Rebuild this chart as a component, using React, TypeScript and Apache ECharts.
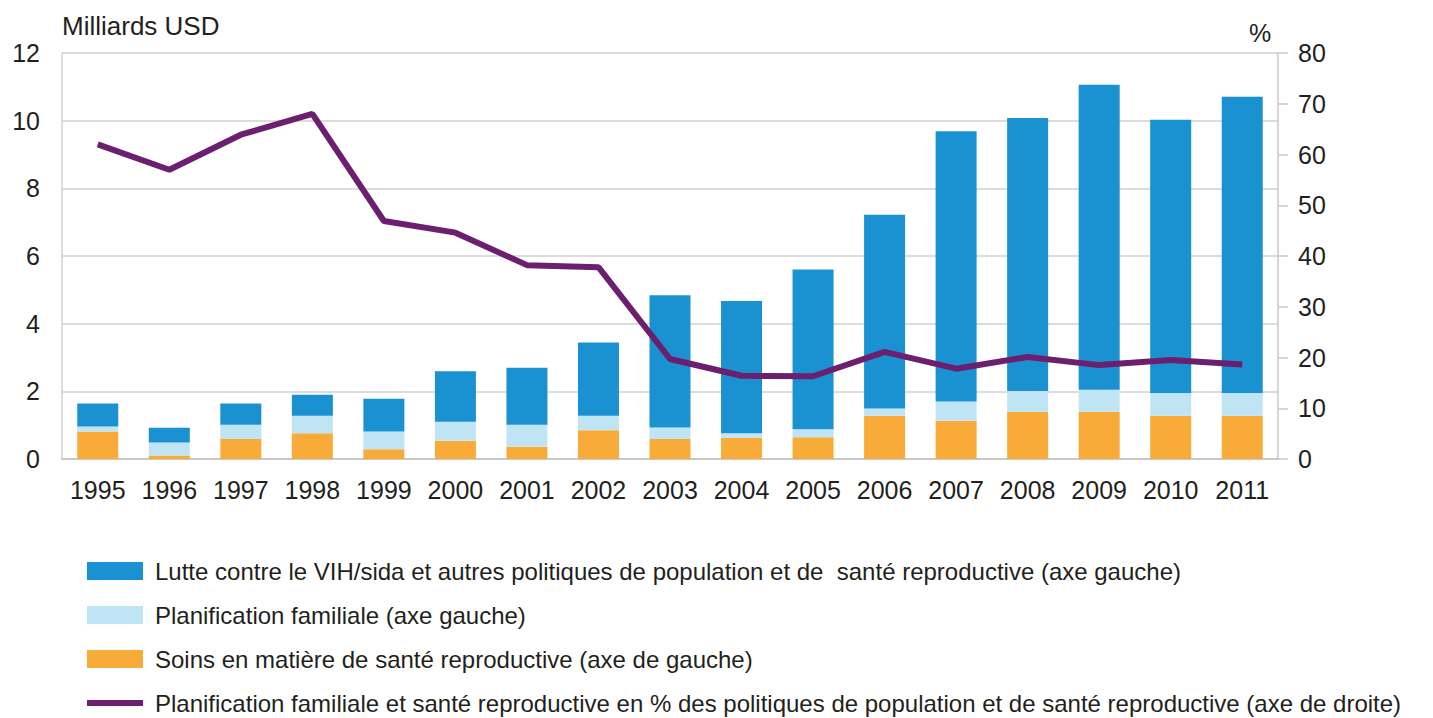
import React, { useEffect, useRef } from "react";
import * as echarts from "echarts";

const years = ["1995","1996","1997","1998","1999","2000","2001","2002","2003","2004","2005","2006","2007","2008","2009","2010","2011"];
const soins = [0.81,0.10,0.59,0.76,0.29,0.54,0.36,0.85,0.59,0.63,0.64,1.28,1.13,1.40,1.40,1.28,1.28];
const planif = [0.15,0.39,0.42,0.52,0.52,0.56,0.65,0.43,0.34,0.13,0.24,0.21,0.57,0.61,0.65,0.67,0.67];
const lutte = [0.68,0.43,0.63,0.62,0.97,1.49,1.69,2.16,3.91,3.91,4.72,5.73,7.99,8.07,9.01,8.08,8.76];
const pct = [62.0,57.0,63.9,68.0,46.9,44.6,38.2,37.8,19.7,16.4,16.3,21.1,17.8,20.1,18.5,19.5,18.6];

const nameLutte = "Lutte contre le VIH/sida et autres politiques de population et de  santé reproductive (axe gauche)";
const namePlanif = "Planification familiale (axe gauche)";
const nameSoins = "Soins en matière de santé reproductive (axe de gauche)";
const nameLine = "Planification familiale et santé reproductive en % des politiques de population et de santé reproductive (axe de droite)";

const FONT = "'Liberation Sans', Arial, sans-serif";
const TXT = "#231f20";

export default function App() {
  const ref = useRef<HTMLDivElement>(null);
  useEffect(() => {
    if (!ref.current) return;
    const chart = echarts.init(ref.current, undefined, { renderer: "svg" });
    chart.setOption({
      animation: false,
      backgroundColor: "#ffffff",
      textStyle: { fontFamily: FONT },
      grid: { left: 62, right: 155, top: 53, bottom: 259, containLabel: false },
      graphic: [
        { type: "text", left: 62, top: 13, style: { text: "Milliards USD", fontSize: 26, fontFamily: FONT, fill: TXT } },
        { type: "text", left: 1249, top: 20, style: { text: "%", fontSize: 25, fontFamily: FONT, fill: TXT } },
      ],
      legend: {
        orient: "vertical",
        left: 82,
        top: 554,
        height: 200,
        width: 1400,
        itemWidth: 56,
        itemHeight: 18,
        itemGap: 20,
        data: [
          { name: nameLutte, icon: "rect" },
          { name: namePlanif, icon: "rect" },
          { name: nameSoins, icon: "rect" },
          { name: nameLine, icon: "path://M0,0L56,0L56,6L0,6Z" },
        ],
        textStyle: { fontSize: 24, fontFamily: FONT, color: TXT, padding: [0, 0, 0, 7] },
      },
      xAxis: {
        type: "category",
        data: years,
        axisLine: { lineStyle: { color: "#c8c8c8", width: 2 } },
        axisTick: { show: false },
        axisLabel: { fontSize: 25, color: TXT, margin: 18, fontFamily: FONT, interval: 0 },
      },
      yAxis: [
        {
          type: "value",
          min: 0,
          max: 12,
          interval: 2,
          axisLine: { show: true, lineStyle: { color: "#d0d0d0", width: 1.5 } },
          axisTick: { show: false },
          splitLine: { lineStyle: { color: "#d0d0d0", width: 1.5 } },
          axisLabel: { fontSize: 25, color: TXT, margin: 22, fontFamily: FONT },
        },
        {
          type: "value",
          min: 0,
          max: 80,
          interval: 10,
          position: "right",
          axisLine: { show: true, lineStyle: { color: "#c8c8c8", width: 1.5 } },
          axisTick: { show: true, length: 10, lineStyle: { color: "#c8c8c8", width: 1.5 } },
          splitLine: { show: false },
          axisLabel: { fontSize: 25, color: TXT, margin: 20, fontFamily: FONT },
        },
      ],
      series: [
        { name: nameSoins, type: "bar", stack: "a", data: soins, barWidth: 41, itemStyle: { color: "#f9ab3a" } },
        { name: namePlanif, type: "bar", stack: "a", data: planif, barWidth: 41, itemStyle: { color: "#bfe5f5" } },
        { name: nameLutte, type: "bar", stack: "a", data: lutte, barWidth: 41, itemStyle: { color: "#1a91d1" } },
        {
          name: nameLine,
          type: "line",
          yAxisIndex: 1,
          data: pct,
          symbol: "none",
          lineStyle: { color: "#6b1f6e", width: 6 },
          itemStyle: { color: "#6b1f6e" },
        },
      ],
    });
    return () => chart.dispose();
  }, []);
  return <div ref={ref} style={{ position: "absolute", left: 0, top: 0, width: 1433, height: 718 }} />;
}
